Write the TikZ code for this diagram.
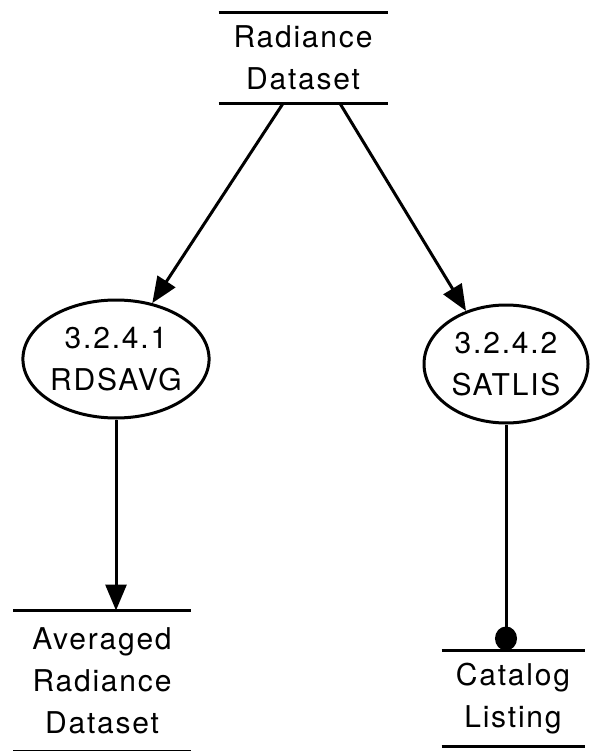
\documentclass[tikz,border=0pt]{standalone}
\usepackage{fontspec}
\setmainfont[LetterSpace=6]{TeX Gyre Heros}
\usetikzlibrary{arrows.meta,shapes.geometric}

\begin{document}
\begin{tikzpicture}[x=1pt, y=-1pt, line width=3pt,
        every node/.style = {font=\fontsize{30}{42}\selectfont, align=center},
        store/.style = {inner sep=0pt},
        proc/.style = {draw, ellipse, inner sep=0pt, minimum height=118pt},
        flow/.style = {-{Triangle[length=26pt,width=21pt]}},
        ctrl/.style = {-{Circle[length=24pt,width=22pt]}}]
        \useasboundingbox (0,0) rectangle (589,751);
        % data stores
        \node[store, minimum width=166pt, minimum height=88pt] (rad) at (303,58) {Radiance\\Dataset};
        \node[store, minimum width=175pt, minimum height=138pt] (avg) at (102,681) {Averaged\\Radiance\\Dataset};
        \node[store, minimum width=140pt, minimum height=93pt] (cat) at (513,698.5) {Catalog\\Listing};
        \draw (rad.north west) -- (rad.north east);
        \draw (rad.south west) -- (rad.south east);
        \draw (avg.north west) -- (avg.north east);
        \draw (avg.south west) -- (avg.south east);
        \draw (cat.north west) -- (cat.north east);
        \draw (cat.south west) -- (cat.south east);
        % processes
        \node[proc, minimum width=172pt] (p1) at (116,359) {3.2.4.1\\RDSAVG};
        \node[proc, minimum width=164pt] (p2) at (506,364) {3.2.4.2\\SATLIS};
        % flows
        \draw[flow] ([xshift=-20pt]rad.south) -- (p1.57);
        \draw[flow] ([xshift=37pt]rad.south) -- (p2.127);
        \draw[flow] (p1.south) -- (p1.south |- avg.north);
        \draw[ctrl] (p2.south) -- (p2.south |- cat.north);
\end{tikzpicture}
\end{document}
